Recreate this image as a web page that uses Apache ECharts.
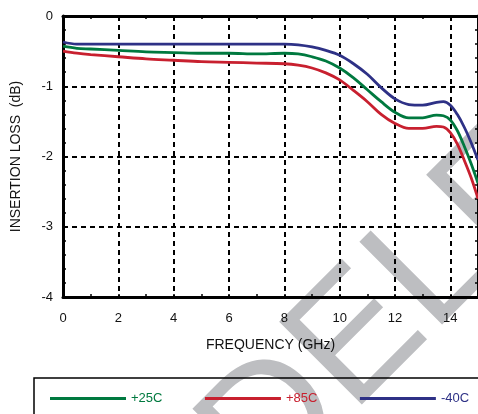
<!DOCTYPE html>
<html>
<head>
<meta charset="utf-8">
<script src="https://cdn.jsdelivr.net/npm/echarts@6/dist/echarts.min.js"></script>
<style>
  html, body { margin: 0; padding: 0; background: #fff; }
  #chart { width: 478px; height: 414px; }
</style>
</head>
<body>
<div id="chart"></div>
<script>
// Frequency sample points (GHz)
const freqGHz = [0, 0.5, 1, 2, 3, 4, 5, 6, 7, 8, 8.5, 9, 9.5, 10, 10.5, 11, 11.5, 12, 12.5, 13, 13.5, 13.75, 14, 14.25, 14.5, 14.75, 15];

// Insertion loss (dB) per temperature
const loss25C = [-0.43, -0.46, -0.47, -0.49, -0.51, -0.52, -0.53, -0.53, -0.54, -0.53, -0.54, -0.58, -0.64, -0.74, -0.88, -1.05, -1.22, -1.37, -1.45, -1.45, -1.41, -1.42, -1.48, -1.63, -1.85, -2.10, -2.38];
const loss85C = [-0.50, -0.53, -0.55, -0.58, -0.61, -0.63, -0.65, -0.66, -0.67, -0.68, -0.70, -0.74, -0.81, -0.91, -1.06, -1.22, -1.40, -1.53, -1.60, -1.60, -1.57, -1.58, -1.66, -1.82, -2.05, -2.30, -2.60];
const lossM40C = [-0.37, -0.40, -0.40, -0.40, -0.40, -0.40, -0.40, -0.40, -0.40, -0.40, -0.41, -0.44, -0.49, -0.56, -0.68, -0.83, -1.02, -1.18, -1.26, -1.27, -1.23, -1.22, -1.27, -1.40, -1.58, -1.80, -2.05];

const seriesNames = ['+25C', '+85C', '-40C'];
const seriesColors = ['#00793f', '#c8202f', '#2e3186'];
const seriesData = [loss25C, loss85C, lossM40C];

const xTickValues = [0, 2, 4, 6, 8, 10, 12, 14];
const yTickValues = [0, -1, -2, -3, -4];

const watermarkText = 'DELETED';

const FONT = '"Liberation Sans", Arial, Helvetica, sans-serif';

const chart = echarts.init(document.getElementById('chart'), null, { renderer: 'canvas' });

const pairs = (ys) => freqGHz.map((x, i) => [x, ys[i]]);

const dashed = { show: true, lineStyle: { color: '#000', width: 2, type: [5, 4] } };

const frameAxis = {
  axisLine: { show: true, onZero: false, lineStyle: { color: '#000', width: 3 } },
  axisTick: { show: true, inside: true, length: 3, lineStyle: { color: '#000', width: 1.5 } }
};

const option = {
  animation: false,
  backgroundColor: '#fff',
  grid: { left: 63, top: 16, width: 418, height: 281, containLabel: false },
  xAxis: [
    Object.assign({
      type: 'value', min: 0, max: 15, interval: 2, position: 'bottom',
      name: 'FREQUENCY (GHz)', nameLocation: 'middle', nameGap: 41,
      nameTextStyle: { fontFamily: FONT, fontSize: 14, color: '#111' },
      minorTick: { show: true, splitNumber: 2, length: 3, lineStyle: { color: '#000', width: 1.5 } },
      axisLabel: {
        fontFamily: FONT, fontSize: 13, color: '#111', margin: 15, showMaxLabel: false,
        formatter: (v) => (xTickValues.includes(v) ? String(v) : '')
      },
      splitLine: dashed
    }, frameAxis),
    Object.assign({
      type: 'value', min: 0, max: 15, interval: 2, position: 'top',
      minorTick: { show: true, splitNumber: 2, length: 3, lineStyle: { color: '#000', width: 1.5 } },
      axisLabel: { show: false },
      splitLine: { show: false }
    }, frameAxis)
  ],
  yAxis: [
    Object.assign({
      type: 'value', min: -4, max: 0, interval: 1, position: 'left',
      name: 'INSERTION LOSS  (dB)', nameLocation: 'middle', nameGap: 40, nameRotate: 90,
      nameTextStyle: { fontFamily: FONT, fontSize: 14, color: '#111' },
      minorTick: { show: true, splitNumber: 5, length: 3, lineStyle: { color: '#000', width: 1.5 } },
      axisLabel: {
        fontFamily: FONT, fontSize: 13, color: '#111', margin: 10,
        formatter: (v) => (yTickValues.includes(v) ? String(v) : '')
      },
      splitLine: dashed
    }, frameAxis),
    Object.assign({
      type: 'value', min: -4, max: 0, interval: 1, position: 'right',
      minorTick: { show: true, splitNumber: 5, length: 3, lineStyle: { color: '#000', width: 1.5 } },
      axisLabel: { show: false },
      splitLine: { show: false }
    }, frameAxis)
  ],
  legend: {
    left: 50, top: 392, padding: 0, itemGap: 42.5,
    itemWidth: 76, itemHeight: 3, icon: 'rect',
    textStyle: { fontFamily: FONT, fontSize: 13 },
    data: seriesNames.map((n, i) => ({ name: n, textStyle: { color: seriesColors[i] } }))
  },
  graphic: [
    {
      // diagonal watermark, reading up to the right; the white outline thins the strokes
      type: 'group', x: 232, y: 468, rotation: Math.PI / 4, z: -10, silent: true,
      children: [{
        type: 'text', x: 0, y: 0, z: -10,
        style: {
          text: watermarkText, font: '170px ' + FONT,
          fill: '#bdbec1', stroke: '#ffffff', lineWidth: 4,
          textAlign: 'left', textVerticalAlign: 'middle'
        }
      }]
    },
    {
      // legend frame
      type: 'rect', z: 5, silent: true,
      shape: { x: 34, y: 378, width: 470, height: 60 },
      style: { fill: 'transparent', stroke: '#000', lineWidth: 1.5 }
    }
  ],
  series: seriesNames.map((n, i) => ({
    name: n, type: 'line', smooth: 0.35, symbol: 'none',
    data: pairs(seriesData[i]),
    lineStyle: { color: seriesColors[i], width: 2.8 },
    itemStyle: { color: seriesColors[i] },
    clip: true, z: 3
  }))
};

chart.setOption(option);
</script>
</body>
</html>
